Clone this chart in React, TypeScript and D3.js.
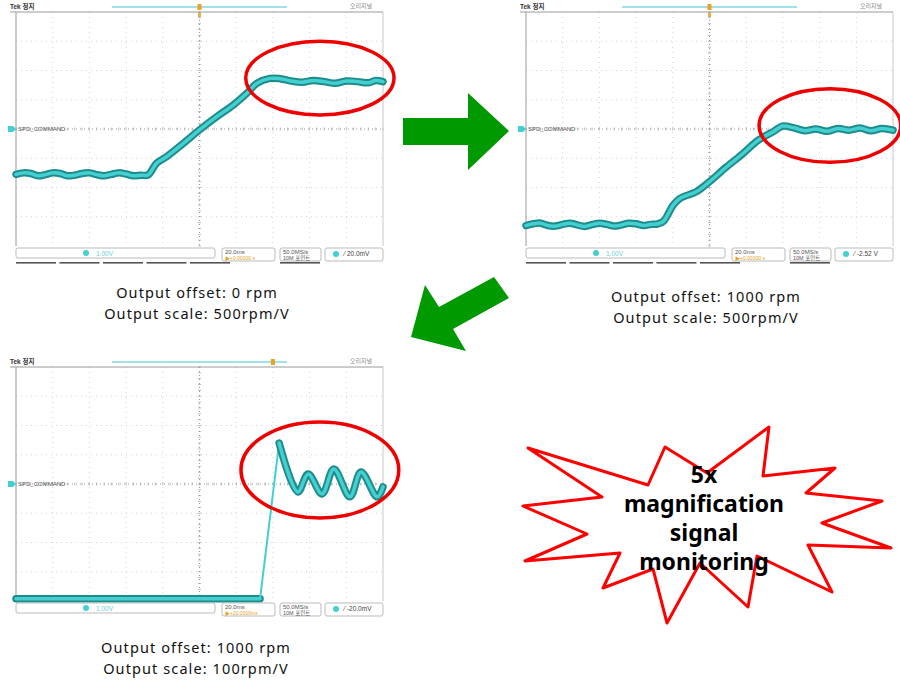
import React from 'react';
import * as d3 from 'd3';

// traces in scope divisions: [time div (0..10), level div (-4..4)]
const trace1: Array<[number, number]> = [
  [0, -1.55], [0.2, -1.5], [0.4, -1.52], [0.6, -1.6], [0.8, -1.56], [1.0, -1.5], [1.2, -1.52],
  [1.4, -1.6], [1.6, -1.58], [1.8, -1.52], [2.0, -1.5], [2.2, -1.56], [2.4, -1.6], [2.6, -1.55],
  [2.8, -1.5], [3.0, -1.54], [3.2, -1.6], [3.4, -1.58], [3.6, -1.57],
  [3.83, -1.17], [4.1, -0.95], [4.56, -0.49], [5.0, -0.03], [5.47, 0.42], [5.92, 0.82],
  [6.29, 1.22], [6.56, 1.56], [6.92, 1.73],
  [7.2, 1.72], [7.5, 1.64], [7.8, 1.6], [8.1, 1.66], [8.4, 1.62], [8.7, 1.56], [9.0, 1.64],
  [9.3, 1.62], [9.6, 1.58], [9.8, 1.66], [10, 1.62],
];

const trace2: Array<[number, number]> = [
  [0, -3.3], [0.2, -3.24], [0.4, -3.22], [0.6, -3.3], [0.8, -3.32], [1.0, -3.26], [1.2, -3.22],
  [1.4, -3.28], [1.6, -3.33], [1.8, -3.27], [2.0, -3.22], [2.2, -3.26], [2.4, -3.32], [2.6, -3.28],
  [2.8, -3.22], [3.0, -3.24], [3.2, -3.3], [3.4, -3.26], [3.6, -3.24],
  [3.75, -3.15], [4.01, -2.6], [4.2, -2.37], [4.65, -2.14], [5.0, -1.8], [5.47, -1.29],
  [5.92, -0.83], [6.33, -0.38], [6.74, -0.09], [6.99, 0.1],
  [7.3, 0.04], [7.6, -0.06], [7.9, 0.0], [8.2, -0.08], [8.5, 0.02], [8.8, -0.04], [9.1, 0.03],
  [9.4, -0.06], [9.7, 0.02], [10, -0.04],
];

// scope 3: flat, fast edge, then ringing
const trace3Flat: Array<[number, number]> = [[0, -3.92], [6.65, -3.92]];
const trace3Edge: Array<[number, number]> = [[6.65, -3.92], [7.17, 1.4]];
const trace3Ring: Array<[number, number]> = [
  [7.17, 1.4], [7.68, -0.27], [7.96, 0.34], [8.34, -0.34],
  [8.66, 0.51], [9.1, -0.44], [9.4, 0.41], [9.84, -0.44], [10, -0.1],
];

// red highlight ellipses, in divisions: [cx, cy, rx, ry]
const ellipse1 = [8.28, 1.74, 2.02, 1.26];
const ellipse2 = [8.28, 0.12, 1.93, 1.26];
const ellipse3 = [8.28, 0.48, 2.15, 1.64];

const offsetLabels = ['Output offset: 0 rpm', 'Output offset: 1000 rpm', 'Output offset: 1000 rpm'];
const scaleLabels = ['Output scale: 500rpm/V', 'Output scale: 500rpm/V', 'Output scale: 100rpm/V'];
const chScale = ['1.00V', '1.00V', '1.00V'];
const timeBase = ['20.0ms', '20.0ms', '20.0ms'];
const delayText = ['▶+0.00000 s', '▶+0.00000 s', '▶+20.0000ms'];
const trigLevel = ['20.0mV', '-2.52 V', '-20.0mV'];
const trigPos = [5, 5, 7];

const burstText = ['5x', 'magnification', 'signal', 'monitoring'];

const W = 367;
const H = 234;
const TEAL_DARK = '#1f8c8c';
const TEAL = '#44d0d0';
const small = '"Liberation Sans", "Noto Sans CJK KR", sans-serif';

interface Piece {
  pts: Array<[number, number]>;
  curve: d3.CurveFactory;
  thin?: boolean;
}

interface ScopeProps {
  left: number;
  top: number;
  pieces: Piece[];
  ellipse: number[];
  idx: number;
}

const Scope: React.FC<ScopeProps> = ({ left, top, pieces, ellipse, idx }) => {
  const x = d3.scaleLinear().domain([0, 10]).range([left, left + W]);
  const y = d3.scaleLinear().domain([-4, 4]).range([top + H, top]);
  const sb = top + H + 2;

  return (
    <g>
      {/* header */}
      <text x={left - 6} y={top - 3} fontSize={6.5} fontWeight="bold" fill="#333" fontFamily={small}>Tek 정지</text>
      <line x1={left + 96} x2={left + 271} y1={top - 5} y2={top - 5} stroke="#7fd8e0" strokeWidth={1.5} />
      <text x={left + 334} y={top - 4} fontSize={6} fill="#888" fontFamily={small}>오리지널</text>
      <rect x={x(trigPos[idx]) - 2} y={top - 8} width={4} height={6} fill="#f0a020" />
      {idx < 2 ? <rect x={x(5) - 1.5} y={top + 1} width={3} height={4} fill="#f0b040" /> : null}

      {/* grid */}
      {d3.range(1, 10).filter(v => v !== 5).map(v => (
        <line key={'v' + v} x1={x(v)} x2={x(v)} y1={top} y2={top + H} stroke="#d4d4d4" strokeDasharray="1 4" />
      ))}
      {d3.range(-3, 4).filter(v => v !== 0).map(v => (
        <line key={'h' + v} x1={left} x2={left + W} y1={y(v)} y2={y(v)} stroke="#d4d4d4" strokeDasharray="1 4" />
      ))}
      <line x1={x(5)} x2={x(5)} y1={top} y2={top + H} stroke="#9a9a9a" strokeDasharray="1 3" />
      <line x1={left} x2={left + W} y1={y(0)} y2={y(0)} stroke="#9a9a9a" strokeDasharray="1 3" />
      {d3.range(0, 10.01, 0.2).map(v => (
        <line key={'tx' + v} x1={x(v)} x2={x(v)} y1={y(0) - 1.5} y2={y(0) + 1.5} stroke="#aaa" strokeWidth={0.8} />
      ))}
      {d3.range(-4, 4.01, 0.2).map(v => (
        <line key={'ty' + v} x1={x(5) - 1.5} x2={x(5) + 1.5} y1={y(v)} y2={y(v)} stroke="#aaa" strokeWidth={0.8} />
      ))}
      <line x1={left - 6} x2={left + W} y1={top} y2={top} stroke="#9a9a9a" strokeWidth={1} />
      <line x1={left} x2={left} y1={top} y2={top + H} stroke="#9a9a9a" strokeWidth={1} />
      <line x1={left + W} x2={left + W} y1={top} y2={top + H} stroke="#c8c8c8" strokeWidth={1} />

      {/* channel marker */}
      <path d={`M${left - 8},${y(0) - 3}L${left - 3},${y(0) - 3}L${left},${y(0)}L${left - 3},${y(0) + 3}L${left - 8},${y(0) + 3}Z`} fill={TEAL} />
      <text x={left + 2} y={y(0) + 2} fontSize={6} fill="#555" fontFamily={small}>SPD_COMMAND</text>

      {/* trace */}
      {pieces.map((p, i) => {
        const d = d3.line<[number, number]>().x(v => x(v[0])).y(v => y(v[1])).curve(p.curve)(p.pts) ?? '';
        return p.thin ? (
          <path key={i} d={d} fill="none" stroke={TEAL} strokeWidth={2} />
        ) : (
          <g key={i}>
            <path d={d} fill="none" stroke={TEAL_DARK} strokeWidth={7.5} strokeLinejoin="round" strokeLinecap="round" />
            <path d={d} fill="none" stroke={TEAL} strokeWidth={3.5} strokeLinejoin="round" strokeLinecap="round" />
          </g>
        );
      })}

      {/* status bar */}
      <rect x={left} y={sb} width={199} height={10} rx={2} fill="#fff" stroke="#bbb" />
      <circle cx={left + 70} cy={sb + 5} r={3} fill={TEAL} />
      <text x={left + 80} y={sb + 7.5} fontSize={6.5} fill="#6cd0d8" fontFamily={small}>{chScale[idx]}</text>
      <rect x={left + 206} y={sb} width={53} height={13} rx={2} fill="#fff" stroke="#bbb" />
      <text x={left + 209} y={sb + 6} fontSize={6} fill="#555" fontFamily={small}>{timeBase[idx]}</text>
      <text x={left + 209} y={sb + 12} fontSize={5} fill="#e8a020" fontFamily={small}>{delayText[idx]}</text>
      <rect x={left + 264} y={sb} width={41} height={13} rx={2} fill="#fff" stroke="#bbb" />
      <text x={left + 267} y={sb + 6} fontSize={6} fill="#555" fontFamily={small}>50.0MS/s</text>
      <text x={left + 267} y={sb + 12} fontSize={5.5} fill="#555" fontFamily={small}>10M 포인트</text>
      <rect x={left + 309} y={sb} width={58} height={13} rx={2} fill="#fff" stroke="#bbb" />
      <circle cx={left + 320} cy={sb + 6} r={3} fill={TEAL} />
      <text x={left + 328} y={sb + 8} fontSize={6.5} fill="#444" fontFamily={small}>⁄ {trigLevel[idx]}</text>
      {idx < 2 ? d3.range(5).map(i => (
        <rect key={'tab' + i} x={left + i * 43.5} y={top + H + 16} width={40} height={1.6} fill="#555" />
      )) : null}
      {idx < 2 ? <rect x={left + 264} y={top + H + 16} width={40} height={1.6} fill="#555" /> : null}

      {/* highlight */}
      <ellipse
        cx={x(ellipse[0])}
        cy={y(ellipse[1])}
        rx={x(ellipse[2]) - x(0)}
        ry={y(0) - y(ellipse[3])}
        fill="none"
        stroke="#ee0000"
        strokeWidth={3.5}
      />
    </g>
  );
};

const scopes = [
  { left: 16, top: 12, pieces: [{ pts: trace1, curve: d3.curveCatmullRom }], ellipse: ellipse1, cx: 197, cy: 298 },
  { left: 526, top: 12, pieces: [{ pts: trace2, curve: d3.curveCatmullRom }], ellipse: ellipse2, cx: 706, cy: 302 },
  {
    left: 16,
    top: 367,
    pieces: [
      { pts: trace3Flat, curve: d3.curveLinear },
      { pts: trace3Edge, curve: d3.curveLinear, thin: true },
      { pts: trace3Ring, curve: d3.curveCatmullRom },
    ],
    ellipse: ellipse3,
    cx: 196,
    cy: 653,
  },
];

const burst: Array<[number, number]> = [
  [528, 448], [602, 497], [523, 506], [587, 534], [525, 561], [620, 553], [603, 588], [653, 569],
  [667, 623], [700, 563], [748, 607], [757, 556], [832, 592], [808, 545], [891, 548], [822, 523],
  [882, 501], [806, 493], [835, 468], [763, 476], [769, 427], [707, 473], [665, 447], [648, 485],
];

const App: React.FC = () => {
  return (
    <svg width={900} height={682} style={{ position: 'absolute', left: 0, top: 0, background: '#fff' }}>
      {scopes.map((s, i) => (
        <g key={i}>
          <Scope left={s.left} top={s.top} pieces={s.pieces} ellipse={s.ellipse} idx={i} />
          <text x={s.cx} y={s.cy} textAnchor="middle" fontSize={14.5} letterSpacing={1.1} fill="#111" fontFamily="'Noto Sans', sans-serif">{offsetLabels[i]}</text>
          <text x={s.cx} y={s.cy + 20.5} textAnchor="middle" fontSize={14.5} letterSpacing={1.1} fill="#111" fontFamily="'Noto Sans', sans-serif">{scaleLabels[i]}</text>
        </g>
      ))}

      {/* arrows */}
      <polygon points="403,118 468,118 468,93 509,131 468,170 468,145 403,145" fill="#009900" />
      <polygon points="494,277 509,298 453,329 466,351 411,337 425,285 439,307" fill="#009900" />

      {/* starburst */}
      <polygon points={burst.map(p => p.join(',')).join(' ')} fill="#fff" stroke="#ff0000" strokeWidth={3} strokeLinejoin="round" />
      {burstText.map((t, i) => (
        <text key={t} x={704} y={483 + i * 29} textAnchor="middle" fontSize={23} fontWeight="bold" fill="#000" fontFamily="'Noto Sans', sans-serif">{t}</text>
      ))}
    </svg>
  );
};

export default App;
